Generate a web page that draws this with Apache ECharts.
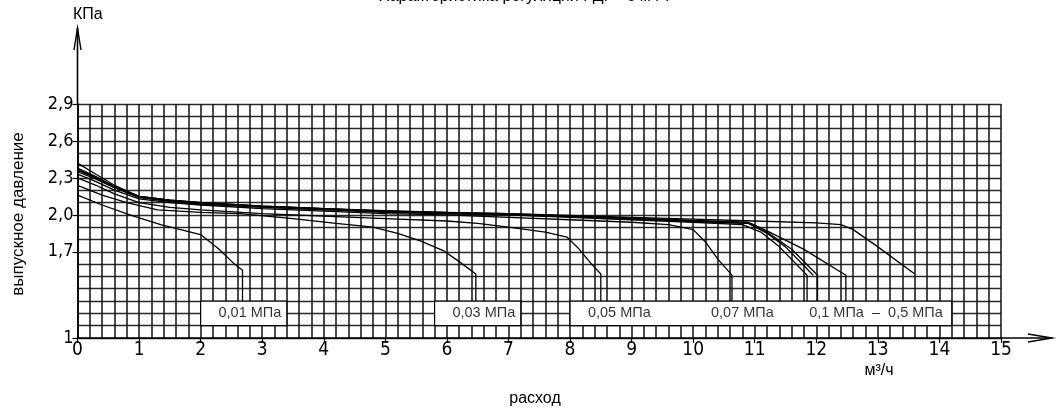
<!DOCTYPE html>
<html><head><meta charset="utf-8">
<script src="https://cdn.jsdelivr.net/npm/echarts@6/dist/echarts.min.js"></script>
<style>html,body{margin:0;padding:0;background:#fff}#c{width:1062px;height:408px}</style>
</head><body><div id="c"></div>
<script>
// ---- data ----
const xMin = 0, xMax = 15;
const yMin = 1.0, yMax = 2.9;
const yTickValues = [1.0, 1.7, 2.0, 2.3, 2.6, 2.9];
const yTickTexts  = ['1', '1,7', '2,0', '2,3', '2,6', '2,9'];
const seriesNames = ['0,01 МПа', '0,03 МПа', '0,05 МПа', '0,07 МПа', '0,1 МПа', '0,2 МПа', '0,3 МПа', '0,4 МПа', '0,5 МПа'];

const c001 = [[0,2.16],[0.4,2.08],[0.85,2.0],[1.35,1.92],[2.0,1.84],[2.3,1.72],[2.55,1.6],[2.68,1.55],[2.68,1.3]];
const c003 = [[0,2.24],[0.4,2.16],[0.8,2.1],[1.3,2.04],[2,2.02],[2.64,2.01],[3.5,1.97],[4.2,1.93],[4.8,1.9],[5.2,1.85],[5.56,1.79],[5.94,1.71],[6.2,1.62],[6.47,1.52],[6.47,1.3]];
const c005 = [[0,2.30],[0.3,2.24],[0.6,2.17],[1,2.1],[1.5,2.06],[2,2.04],[3,2.01],[4,1.99],[5,1.97],[6,1.95],[6.5,1.93],[7.0,1.9],[7.6,1.86],[7.95,1.82],[8.15,1.72],[8.35,1.6],[8.5,1.52],[8.5,1.3]];
const c007 = [[0,2.33],[0.3,2.27],[0.6,2.2],[1,2.13],[1.5,2.1],[2,2.08],[3,2.05],[4,2.03],[5,2.01],[6,2.0],[7,1.98],[8,1.96],[9,1.94],[9.6,1.92],[10.0,1.88],[10.2,1.78],[10.4,1.64],[10.63,1.51],[10.63,1.3]];
const c01  = [[0,2.35],[0.3,2.29],[0.6,2.22],[1,2.14],[1.5,2.11],[2,2.09],[3,2.06],[4,2.04],[5,2.02],[6,2.01],[7,2.0],[8,1.98],[9,1.96],[10,1.94],[10.8,1.92],[11.1,1.86],[11.4,1.74],[11.85,1.51],[11.85,1.3]];
const c02  = [[0,2.36],[0.3,2.3],[0.6,2.22],[1,2.15],[1.5,2.11],[2,2.09],[3,2.065],[4,2.045],[5,2.025],[6,2.01],[7,2.0],[8,1.985],[9,1.965],[10,1.945],[10.9,1.93],[11.2,1.85],[11.5,1.74],[11.95,1.51]];
const c03  = [[0,2.37],[0.3,2.3],[0.6,2.23],[1,2.15],[1.5,2.12],[2,2.1],[3,2.07],[4,2.05],[5,2.03],[6,2.015],[7,2.005],[8,1.99],[9,1.97],[10,1.95],[10.9,1.93],[11.2,1.86],[11.6,1.72],[12.02,1.51],[12.02,1.3]];
const c04  = [[0,2.38],[0.3,2.31],[0.6,2.23],[1,2.15],[1.5,2.12],[2,2.1],[3,2.07],[4,2.05],[5,2.03],[6,2.02],[7,2.01],[8,1.99],[9,1.975],[10,1.955],[10.9,1.94],[11.2,1.87],[11.8,1.72],[12.48,1.51],[12.48,1.3]];
const c05  = [[0,2.42],[0.3,2.33],[0.6,2.24],[1,2.15],[1.5,2.12],[2,2.1],[3,2.07],[4,2.05],[5,2.035],[6,2.02],[7,2.01],[8,1.995],[9,1.98],[10,1.965],[11,1.95],[12,1.935],[12.4,1.92],[12.6,1.88],[13.0,1.74],[13.6,1.52]];
const curves = [c001, c003, c005, c007, c01, c02, c03, c04, c05];

const boxRanges = [[2.0, 3.4], [5.8, 7.2], [8.0, 14.2]];
const boxYRange = [1.1, 1.3];
const labelTexts = ['0,01 МПа', '0,03 МПа', '0,05 МПа', '0,07 МПа', '0,1 МПа  –  0,5 МПа'];
const labelX = [2.8, 6.6, 8.8, 10.8, 12.97];
const labelY = [1.2, 1.2, 1.2, 1.2, 1.2];

// ---- chart ----
const numFont = "'Liberation Sans Narrow', 'DejaVu Sans Condensed', 'Arial Narrow', 'Liberation Sans', sans-serif";
const txtFont = "'Liberation Sans', Arial, sans-serif";
const chart = echarts.init(document.getElementById('c'), null, {renderer: 'canvas'});

const series = curves.map((c, i) => ({
  name: seriesNames[i], type: 'line', data: c, xAxisIndex: 0, yAxisIndex: 0,
  symbol: 'none', smooth: false, z: 4,
  lineStyle: {color: '#000', width: 1.3}, emphasis: {disabled: true}
}));
series.push({
  type: 'scatter', xAxisIndex: 0, yAxisIndex: 0, z: 3, symbolSize: 0, data: [],
  markArea: {
    silent: true,
    itemStyle: {color: '#fff', borderColor: '#000', borderWidth: 1.2},
    data: boxRanges.map(r => [{xAxis: r[0], yAxis: boxYRange[0]}, {xAxis: r[1], yAxis: boxYRange[1]}])
  }
});
series.push({
  type: 'scatter', xAxisIndex: 0, yAxisIndex: 0, z: 10, symbolSize: 0, silent: true,
  data: labelTexts.map((t, i) => ({name: t, value: [labelX[i], labelY[i]]})),
  label: {show: true, position: 'inside', formatter: p => p.name, color: '#000',
          fontSize: 14.5, fontFamily: txtFont}
});

chart.setOption({
  animation: false,
  backgroundColor: '#fff',
  grid: {left: 77.5, right: 61, top: 104, bottom: 70, containLabel: false},
  xAxis: [
    {type: 'value', min: xMin, max: xMax, interval: 0.2,
     axisLine: {show: true, onZero: false, lineStyle: {color: '#000', width: 1.6}},
     axisTick: {show: false}, axisLabel: {show: false},
     splitLine: {show: true, lineStyle: {color: '#111', width: 1.5}}},
    {type: 'value', min: xMin, max: xMax, interval: 1, position: 'bottom',
     axisLine: {show: false, onZero: false},
     axisTick: {show: true, length: 5, lineStyle: {color: '#000', width: 1.2}},
     axisLabel: {show: true, color: '#000', fontSize: 19, fontFamily: numFont, margin: 3},
     splitLine: {show: false}}
  ],
  yAxis: [
    {type: 'value', min: yMin, max: yMax, interval: 0.1,
     axisLine: {show: true, onZero: false, lineStyle: {color: '#000', width: 1.6}},
     axisTick: {show: false}, axisLabel: {show: false},
     splitLine: {show: true, lineStyle: {color: '#2a2a2a', width: 1.3}}},
    {type: 'value', min: yMin, max: yMax, position: 'left',
     axisLine: {show: false, onZero: false},
     axisTick: {show: true, length: 5, customValues: yTickValues, lineStyle: {color: '#000', width: 1.2}},
     axisLabel: {show: true, customValues: yTickValues, color: '#000', fontSize: 18, fontFamily: numFont, margin: 4,
       formatter: v => { const k = yTickValues.findIndex(t => Math.abs(t - v) < 1e-6); return k >= 0 ? yTickTexts[k] : ''; }},
     splitLine: {show: false}}
  ],
  series: series
});

// axis arrows and texts
const o = chart.convertToPixel({xAxisIndex: 0, yAxisIndex: 0}, [xMin, yMin]);
const tr = chart.convertToPixel({xAxisIndex: 0, yAxisIndex: 0}, [xMax, yMax]);
const ax = o[0], ay = o[1];
const yTip = 28, xTip = 1052;
chart.setOption({
  graphic: [
    {type: 'line', shape: {x1: ax, y1: tr[1], x2: ax, y2: yTip}, style: {stroke: '#000', lineWidth: 1.6}},
    {type: 'polyline', shape: {points: [[ax - 3.5, yTip + 22], [ax, yTip], [ax + 3.5, yTip + 22]]}, style: {stroke: '#000', lineWidth: 1.4, fill: null}},
    {type: 'line', shape: {x1: tr[0], y1: ay, x2: xTip, y2: ay}, style: {stroke: '#000', lineWidth: 1.6}},
    {type: 'polyline', shape: {points: [[xTip - 24, ay - 4], [xTip, ay], [xTip - 24, ay + 4]]}, style: {stroke: '#000', lineWidth: 1.4, fill: null}},
    {type: 'text', left: 73, top: 7, style: {text: 'КПа', fontSize: 16, fontFamily: txtFont, fill: '#000'}},
    {type: 'text', x: 524, y: -3, style: {text: 'Характеристика регуляции РДГ - 6 м³/ч', fontSize: 16, fontFamily: txtFont, fill: '#000', align: 'center', verticalAlign: 'middle'}},
    {type: 'text', x: 18, y: 214, rotation: Math.PI / 2, style: {text: 'выпускное давление', fontSize: 17, fontFamily: txtFont, fill: '#000', align: 'center', verticalAlign: 'middle'}},
    {type: 'text', x: 535, y: 399, style: {text: 'расход', fontSize: 16, fontFamily: txtFont, fill: '#000', align: 'center', verticalAlign: 'middle'}},
    {type: 'text', x: 879, y: 371, style: {text: 'м³/ч', fontSize: 16, fontFamily: txtFont, fill: '#000', align: 'center', verticalAlign: 'middle'}}
  ]
});
</script>
</body></html>
